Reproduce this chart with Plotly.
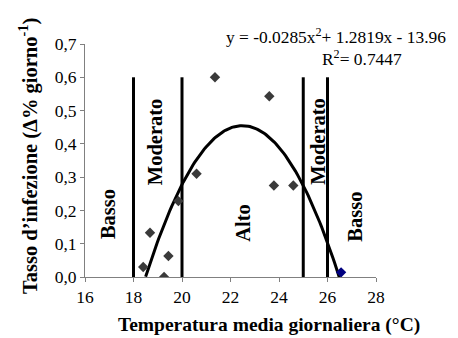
import plotly.graph_objects as go

# Observed data (temperature °C, infection rate)
temp = [18.40, 18.68, 19.26, 19.44, 19.85, 20.60, 21.36, 23.60, 23.79, 24.59]
rate = [0.03, 0.133, 0.0, 0.063, 0.228, 0.31, 0.60, 0.543, 0.275, 0.275]
temp_blue = [26.56]
rate_blue = [0.014]

# Trendline as given in the chart: y = a x^2 + b x + c
trend_coeffs = [-0.0285, 1.2819, -13.96]
trend_x_start = 18.5
trend_x_end = 26.49

# Zone boundaries and labels
zone_bounds = [18, 20, 25, 26]
zone_top = 0.6
zone_labels = ["Basso", "Moderato", "Alto", "Moderato", "Basso"]
zone_label_x = [16.92, 18.9, 22.52, 25.6, 27.13]
zone_label_y = [0.19, 0.406, 0.163, 0.409, 0.181]

x_ticks = [16, 18, 20, 22, 24, 26, 28]
y_ticks = [0.0, 0.1, 0.2, 0.3, 0.4, 0.5, 0.6, 0.7]

FONT = "Liberation Serif"

# page body has an 8px margin: work in reference pixels, then shift
OFF = 8
W, H = 458 - OFF, 338 - OFF
PL, PR, PT, PB = 85, 376, 43.5, 277.5   # plot box in reference pixels
L, R, T, B = PL - OFF, (W + OFF) - PR, PT - OFF, (H + OFF) - PB

def px(xp, yp):
    return (xp - PL) / (PR - PL), (PB - yp) / (PB - PT)

fig = go.Figure()

# vertical zone lines
vx, vy = [], []
for b in zone_bounds:
    vx += [b, b, None]
    vy += [0, zone_top, None]
fig.add_trace(go.Scatter(x=vx, y=vy, mode="lines",
                         line=dict(color="black", width=3), hoverinfo="skip"))

# trend curve
n = 120
tx = [trend_x_start + (trend_x_end - trend_x_start) * i / (n - 1) for i in range(n)]
a, b, c = trend_coeffs
ty = [a * x * x + b * x + c for x in tx]
fig.add_trace(go.Scatter(x=tx, y=ty, mode="lines",
                         line=dict(color="black", width=3), hoverinfo="skip"))

fig.add_trace(go.Scatter(x=temp, y=rate, mode="markers",
                         marker=dict(symbol="diamond", size=8, color="#3a3a3a")))
fig.add_trace(go.Scatter(x=temp_blue, y=rate_blue, mode="markers",
                         marker=dict(symbol="diamond", size=8, color="#000080")))

for lbl, lx, ly in zip(zone_labels, zone_label_x, zone_label_y):
    fig.add_annotation(x=lx, y=ly, xref="x", yref="y", text="<b>%s</b>" % lbl,
                       textangle=-90, showarrow=False, xanchor="center", yanchor="middle",
                       font=dict(family=FONT, size=20.5, color="black"))

ex, ey = px(225, 35)
fig.add_annotation(x=ex, y=ey, xref="paper", yref="paper", xanchor="left", yanchor="middle",
                   text="y = -0.0285x<sup>2</sup>+ 1.2819x - 13.96", showarrow=False,
                   borderpad=0, font=dict(family=FONT, size=17.4, color="black"))
rx, ry = px(321, 58)
fig.add_annotation(x=rx, y=ry, xref="paper", yref="paper", xanchor="left", yanchor="middle",
                   text="R<sup>2</sup>= 0.7447", showarrow=False,
                   borderpad=0, font=dict(family=FONT, size=17.4, color="black"))

# axis titles
yx, yy = px(28, 156)
fig.add_annotation(x=yx, y=yy, xref="paper", yref="paper", textangle=-90,
                   xanchor="center", yanchor="middle",
                   text="<b>Tasso d’infezione (Δ% giorno<sup>-1</sup>)</b>", showarrow=False,
                   font=dict(family=FONT, size=20.5, color="black"))
xx, xy = px(269, 326)
fig.add_annotation(x=xx, y=xy, xref="paper", yref="paper",
                   xanchor="center", yanchor="middle",
                   text="<b>Temperatura media giornaliera (°C)</b>", showarrow=False,
                   font=dict(family=FONT, size=19.5, color="black"))

fig.update_layout(
    width=W, height=H,
    margin=dict(l=L, r=R, t=T, b=B, autoexpand=False),
    paper_bgcolor="white", plot_bgcolor="white",
    showlegend=False,
    separators=", ",
    font=dict(family=FONT, size=17, color="black"),
    xaxis=dict(range=[16, 28], tickvals=x_ticks, showgrid=False, zeroline=False,
               showline=True, linecolor="#808080", linewidth=1,
               ticks="outside", ticklen=4, tickcolor="#808080",
               tickfont=dict(family=FONT, size=17.5, color="black")),
    yaxis=dict(range=[0, 0.7], tickvals=y_ticks, tickformat=".1f", showgrid=False,
               zeroline=False, showline=True, linecolor="#808080", linewidth=1,
               ticks="outside", ticklen=4, tickcolor="#808080",
               tickfont=dict(family=FONT, size=17.5, color="black")),
)

fig.write_html("out.html")
